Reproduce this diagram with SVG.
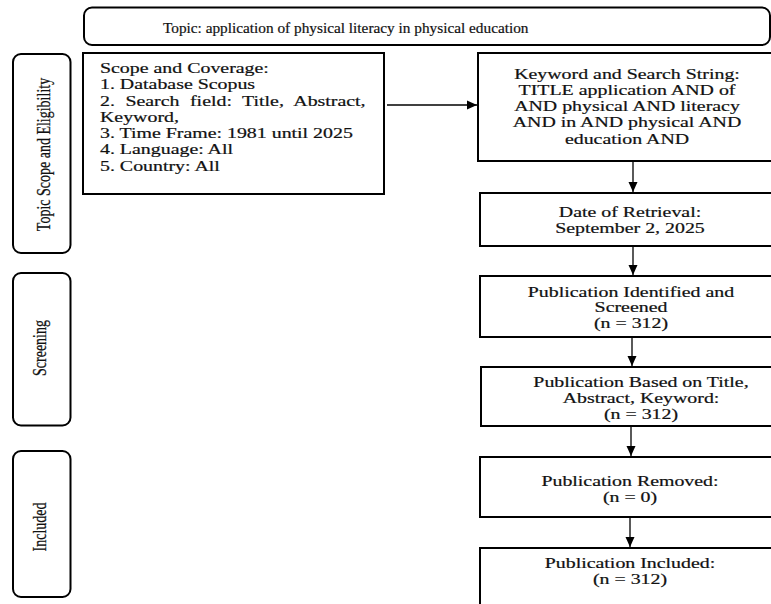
<svg xmlns="http://www.w3.org/2000/svg" width="771" height="604" viewBox="0 0 771 604">
<defs>
<style>
.box{fill:#fff;stroke:#000;stroke-width:2}
.stage{fill:#fff;stroke:#000;stroke-width:2}
.t{font-family:"Liberation Serif","Times New Roman",serif;font-size:14px;fill:#111;stroke:#111;stroke-width:0.2}
.c{text-anchor:middle}
.conn{stroke:#000;stroke-width:1.3;fill:none}
</style>
<marker id="ah" markerUnits="userSpaceOnUse" markerWidth="10" markerHeight="10" refX="10" refY="5" orient="auto">
<path d="M0,0.5 L10,5 L0,9.5 z" fill="#000"/>
</marker>
</defs>
<rect width="771" height="604" fill="#fff"/>

<g id="topic">
<rect class="stage" x="84" y="7.5" width="686" height="37.5" rx="8"/>
<text class="t" x="163" y="33" style="font-size:15.3px">Topic: application of physical literacy in physical education</text>
</g>

<g id="stage-scope">
<rect class="stage" x="13" y="54" width="57.5" height="199" rx="8"/>
<text class="t c" transform="translate(50,154.5) rotate(-90) scale(1,1.42)">Topic Scope and Eligibility</text>
</g>
<g id="stage-screening">
<rect class="stage" x="13" y="273" width="57.5" height="152.5" rx="8"/>
<text class="t c" transform="translate(46,348) rotate(-90) scale(1,1.42)">Screening</text>
</g>
<g id="stage-included">
<rect class="stage" x="13" y="451" width="57.5" height="146" rx="8"/>
<text class="t c" transform="translate(46,527) rotate(-90) scale(1,1.42)">Included</text>
</g>

<g id="scope">
<rect class="box" x="83" y="53" width="301" height="141"/>
<text class="t" transform="translate(100,73) scale(1.42,1)"><tspan x="0" y="0">Scope and Coverage:</tspan><tspan x="0" y="16.3">1. Database Scopus</tspan></text>
<text class="t" transform="translate(100,105.6) scale(1.42,1)" style="word-spacing:3.9px">2. Search field: Title, Abstract,</text>
<text class="t" transform="translate(100,121.9) scale(1.42,1)"><tspan x="0" y="0">Keyword,</tspan><tspan x="0" y="16.3">3. Time Frame: 1981 until 2025</tspan><tspan x="0" y="32.6">4. Language: All</tspan><tspan x="0" y="48.9">5. Country: All</tspan></text>
</g>

<g id="keyword">
<rect class="box" x="478" y="53" width="310" height="108"/>
<text class="t c" transform="translate(627,78.5) scale(1.42,1)"><tspan x="0" y="0">Keyword and Search String:</tspan><tspan x="0" y="16.3">TITLE application AND of</tspan><tspan x="0" y="32.6">AND physical AND literacy</tspan><tspan x="0" y="48.9">AND in AND physical AND</tspan><tspan x="0" y="65.2">education AND</tspan></text>
</g>

<g id="date">
<rect class="box" x="480" y="193" width="310" height="53"/>
<text class="t c" transform="translate(630,217) scale(1.42,1)"><tspan x="0" y="0">Date of Retrieval:</tspan><tspan x="0" y="16">September 2, 2025</tspan></text>
</g>

<g id="identified">
<rect class="box" x="480" y="276" width="310" height="61"/>
<text class="t c" transform="translate(631,296.5) scale(1.42,1)"><tspan x="0" y="0">Publication Identified and</tspan><tspan x="0" y="16">Screened</tspan><tspan x="0" y="32">(n = 312)</tspan></text>
</g>

<g id="based">
<rect class="box" x="481" y="367" width="310" height="59"/>
<text class="t c" transform="translate(641,387) scale(1.42,1)"><tspan x="0" y="0">Publication Based on Title,</tspan><tspan x="0" y="16">Abstract, Keyword:</tspan><tspan x="0" y="32">(n = 312)</tspan></text>
</g>

<g id="removed">
<rect class="box" x="480" y="457" width="310" height="60"/>
<text class="t c" transform="translate(630,486) scale(1.42,1)"><tspan x="0" y="0">Publication Removed:</tspan><tspan x="0" y="16">(n = 0)</tspan></text>
</g>

<g id="included">
<rect class="box" x="480" y="548" width="310" height="70"/>
<text class="t c" transform="translate(630,568) scale(1.42,1)"><tspan x="0" y="0">Publication Included:</tspan><tspan x="0" y="16">(n = 312)</tspan></text>
</g>

<g id="connectors">
<line class="conn" x1="387" y1="105" x2="477" y2="105" marker-end="url(#ah)"/>
<line class="conn" x1="633" y1="162" x2="633" y2="192" marker-end="url(#ah)"/>
<line class="conn" x1="633" y1="247" x2="633" y2="275" marker-end="url(#ah)"/>
<line class="conn" x1="632" y1="338" x2="632" y2="366" marker-end="url(#ah)"/>
<line class="conn" x1="631" y1="427" x2="631" y2="456" marker-end="url(#ah)"/>
<line class="conn" x1="630" y1="518" x2="630" y2="547" marker-end="url(#ah)"/>
</g>
</svg>
